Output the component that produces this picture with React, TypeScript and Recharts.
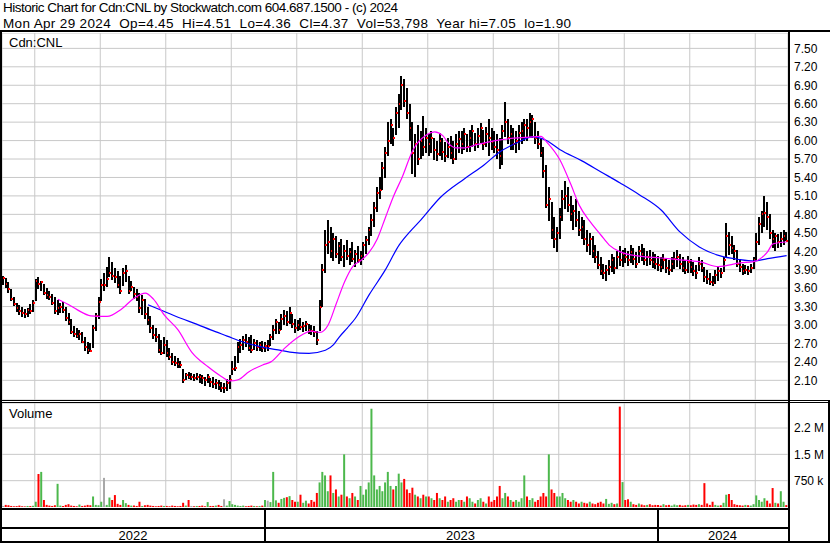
import { Bar, BarChart, CartesianGrid, Cell, ComposedChart, Line, XAxis, YAxis } from 'recharts';

// one bar ~ every 1.75 trading days, 12 bars per month, May 2022 .. Apr 2024
const highs = [
  3.80, 3.76, 3.70, 3.58, 3.45, 3.36, 3.32, 3.30, 3.26, 3.28, 3.34, 3.40,
  3.75, 3.78, 3.72, 3.66, 3.60, 3.55, 3.50, 3.45, 3.40, 3.35, 3.38, 3.30,
  3.20, 3.10, 2.98, 2.95, 2.92, 2.88, 2.80, 2.72, 2.70, 3.00, 3.20, 3.45,
  3.75, 3.85, 3.95, 4.10, 4.02, 3.92, 3.88, 3.80, 3.92, 3.98, 3.80, 3.72,
  3.62, 3.58, 3.52, 3.48, 3.42, 3.30, 3.15, 3.00, 2.95, 2.86, 2.75, 2.80,
  2.75, 2.62, 2.55, 2.50, 2.46, 2.42, 2.28, 2.22, 2.24, 2.22, 2.20, 2.22,
  2.20, 2.18, 2.16, 2.20, 2.14, 2.16, 2.12, 2.10, 2.08, 2.06, 2.12, 2.18,
  2.42, 2.50, 2.72, 2.78, 2.82, 2.86, 2.80, 2.84, 2.78, 2.76, 2.72, 2.74,
  2.72, 2.76, 2.85, 3.00, 3.10, 3.05, 3.18, 3.25, 3.22, 3.30, 3.18, 3.10,
  3.08, 3.12, 3.05, 3.06, 3.02, 3.00, 2.98, 2.90, 3.40, 4.00, 4.55, 4.70,
  4.60, 4.50, 4.45, 4.35, 4.40, 4.30, 4.38, 4.25, 4.35, 4.22, 4.28, 4.20,
  4.35, 4.45, 4.60, 4.80, 5.00, 5.25, 5.40, 5.65, 5.90, 6.30, 6.35, 6.20,
  6.55, 6.75, 7.05, 7.00, 6.85, 6.60, 6.30, 6.10, 6.25, 6.15, 6.40, 6.20,
  6.10, 6.15, 6.05, 6.00, 6.12, 6.05, 5.98, 6.05, 6.08, 6.00, 6.10, 6.15,
  6.15, 6.20, 6.10, 6.18, 6.25, 6.12, 6.20, 6.28, 6.18, 6.22, 6.35, 6.20,
  6.15, 6.10, 6.05, 6.25, 6.62, 6.35, 6.25, 6.20, 6.15, 6.25, 6.30, 6.35,
  6.35, 6.45, 6.42, 6.30, 6.15, 6.02, 5.90, 5.60, 5.25, 5.00, 4.75, 4.60,
  4.90, 5.20, 5.35, 5.25, 5.10, 4.95, 5.05, 4.85, 4.75, 4.70, 4.55, 4.50,
  4.45, 4.30, 4.20, 4.10, 4.00, 3.98, 4.05, 4.15, 4.10, 4.20, 4.28, 4.22,
  4.25, 4.20, 4.30, 4.25, 4.18, 4.28, 4.32, 4.25, 4.20, 4.22, 4.18, 4.15,
  4.12, 4.10, 4.15, 4.08, 4.05, 4.10, 4.18, 4.22, 4.15, 4.10, 4.05, 4.12,
  4.08, 4.02, 3.98, 4.10, 4.05, 3.95, 3.90, 3.85, 3.80, 3.90, 3.95, 3.92,
  4.10, 4.66, 4.52, 4.45, 4.30, 4.22, 4.05, 4.00, 3.98, 3.96, 4.00, 4.10,
  4.50, 4.75, 4.85, 5.10, 5.00, 4.80, 4.55, 4.50, 4.48, 4.52, 4.55, 4.51,
];

const lows = [
  3.66, 3.60, 3.52, 3.38, 3.30, 3.22, 3.16, 3.14, 3.12, 3.14, 3.18, 3.20,
  3.40, 3.58, 3.55, 3.48, 3.42, 3.40, 3.32, 3.18, 3.15, 3.18, 3.20, 3.08,
  3.00, 2.85, 2.80, 2.78, 2.75, 2.70, 2.58, 2.52, 2.55, 2.62, 2.90, 3.10,
  3.40, 3.55, 3.62, 3.78, 3.72, 3.68, 3.60, 3.50, 3.62, 3.70, 3.50, 3.55,
  3.42, 3.38, 3.20, 3.15, 3.10, 3.00, 2.88, 2.78, 2.72, 2.55, 2.50, 2.52,
  2.48, 2.42, 2.36, 2.34, 2.30, 2.30, 2.05, 2.10, 2.12, 2.10, 2.08, 2.10,
  2.06, 2.04, 2.02, 2.05, 2.00, 1.98, 1.95, 1.94, 1.92, 1.90, 1.92, 1.95,
  2.20, 2.25, 2.38, 2.55, 2.60, 2.65, 2.58, 2.55, 2.60, 2.58, 2.58, 2.56,
  2.56, 2.58, 2.66, 2.76, 2.85, 2.86, 2.92, 3.00, 2.98, 3.02, 2.95, 2.88,
  2.90, 2.92, 2.88, 2.90, 2.86, 2.84, 2.80, 2.68, 2.90, 3.30, 3.85, 4.15,
  4.10, 4.05, 4.10, 4.00, 4.05, 3.95, 4.05, 3.98, 4.02, 3.95, 4.00, 3.98,
  4.05, 4.15, 4.30, 4.45, 4.60, 4.85, 5.05, 5.20, 5.40, 5.75, 5.95, 5.90,
  6.10, 6.20, 6.50, 6.55, 6.35, 6.00, 5.45, 5.40, 5.60, 5.70, 5.75, 5.80,
  5.75, 5.80, 5.70, 5.68, 5.75, 5.70, 5.65, 5.72, 5.70, 5.62, 5.68, 5.80,
  5.78, 5.85, 5.80, 5.82, 5.90, 5.82, 5.88, 5.95, 5.85, 5.90, 5.75, 5.85,
  5.80, 5.70, 5.55, 5.60, 6.05, 5.95, 5.85, 5.85, 5.80, 5.85, 5.95, 6.00,
  6.00, 6.05, 6.05, 5.95, 5.85, 5.72, 5.40, 4.90, 4.70, 4.40, 4.25, 4.20,
  4.40, 4.70, 4.90, 4.85, 4.70, 4.55, 4.60, 4.45, 4.40, 4.30, 4.20, 4.15,
  4.10, 4.00, 3.90, 3.80, 3.75, 3.72, 3.80, 3.85, 3.82, 3.90, 3.95, 3.95,
  4.00, 3.95, 4.00, 3.98, 3.92, 4.00, 4.05, 3.98, 3.95, 3.98, 3.92, 3.90,
  3.88, 3.85, 3.90, 3.85, 3.80, 3.85, 3.90, 3.95, 3.90, 3.85, 3.82, 3.85,
  3.85, 3.80, 3.75, 3.88, 3.85, 3.70, 3.68, 3.65, 3.64, 3.68, 3.72, 3.75,
  3.85, 4.10, 4.15, 4.15, 4.05, 3.95, 3.85, 3.82, 3.84, 3.82, 3.85, 3.90,
  4.05, 4.30, 4.50, 4.60, 4.55, 4.40, 4.25, 4.20, 4.25, 4.28, 4.30, 4.36,
];

const closes = [
  3.76, 3.66, 3.58, 3.42, 3.34, 3.28, 3.22, 3.20, 3.18, 3.24, 3.22, 3.36,
  3.72, 3.66, 3.70, 3.52, 3.48, 3.45, 3.36, 3.22, 3.28, 3.30, 3.25, 3.12,
  3.05, 2.88, 2.86, 2.82, 2.85, 2.72, 2.65, 2.60, 2.58, 2.95, 3.15, 3.38,
  3.65, 3.65, 3.75, 3.85, 3.80, 3.78, 3.65, 3.55, 3.85, 3.88, 3.55, 3.62,
  3.50, 3.45, 3.28, 3.40, 3.18, 3.08, 2.95, 2.84, 2.80, 2.60, 2.55, 2.68,
  2.55, 2.48, 2.40, 2.38, 2.36, 2.35, 2.10, 2.18, 2.16, 2.16, 2.14, 2.16,
  2.15, 2.14, 2.10, 2.16, 2.08, 2.04, 2.06, 2.02, 1.98, 1.98, 2.06, 2.10,
  2.28, 2.30, 2.65, 2.68, 2.75, 2.72, 2.62, 2.60, 2.70, 2.64, 2.68, 2.62,
  2.66, 2.66, 2.80, 2.92, 3.05, 2.92, 3.10, 3.15, 3.05, 3.20, 3.02, 2.95,
  3.00, 2.96, 2.98, 3.02, 2.92, 2.90, 2.88, 2.75, 3.30, 3.90, 4.30, 4.35,
  4.20, 4.40, 4.15, 4.28, 4.10, 4.20, 4.12, 4.18, 4.08, 4.15, 4.05, 4.12,
  4.30, 4.38, 4.55, 4.70, 4.90, 5.15, 5.20, 5.55, 5.80, 6.00, 6.25, 6.05,
  6.45, 6.60, 6.90, 6.65, 6.45, 6.20, 5.80, 5.95, 5.70, 6.00, 5.90, 6.05,
  5.95, 6.05, 5.85, 5.78, 6.00, 5.82, 5.75, 5.90, 5.80, 5.70, 5.95, 6.02,
  5.95, 6.10, 5.90, 6.05, 6.15, 5.95, 6.08, 6.20, 5.95, 6.10, 6.05, 5.98,
  5.90, 5.85, 5.75, 6.15, 6.30, 6.05, 6.10, 5.95, 6.00, 6.12, 6.15, 6.25,
  6.20, 6.30, 6.35, 6.05, 5.95, 5.80, 5.50, 4.95, 5.05, 4.55, 4.40, 4.50,
  4.75, 5.05, 5.10, 4.95, 4.80, 4.85, 4.70, 4.55, 4.60, 4.40, 4.30, 4.40,
  4.20, 4.10, 3.98, 3.88, 3.85, 3.90, 3.95, 4.05, 3.92, 4.10, 4.05, 4.15,
  4.10, 4.05, 4.18, 4.08, 4.00, 4.20, 4.15, 4.05, 4.10, 4.05, 4.02, 4.00,
  3.98, 3.95, 4.05, 3.92, 3.90, 4.00, 4.08, 4.10, 4.00, 3.92, 3.90, 4.02,
  3.95, 3.88, 3.85, 4.00, 3.92, 3.78, 3.75, 3.70, 3.68, 3.82, 3.88, 3.85,
  4.05, 4.45, 4.30, 4.25, 4.20, 4.00, 3.95, 3.88, 3.90, 3.88, 3.92, 4.05,
  4.35, 4.65, 4.80, 4.82, 4.75, 4.50, 4.40, 4.45, 4.35, 4.40, 4.45, 4.37,
];

// thousands of shares
const volumes = [
  30, 60, 50, 30, 20, 25, 40, 20, 15, 30, 25, 35,
  150, 940, 1000, 200, 60, 40, 30, 50, 660, 40, 30, 60,
  80, 40, 30, 20, 70, 30, 40, 60, 50, 300, 60, 50,
  150, 830, 60, 270, 200, 340, 90, 60, 200, 110, 60, 40,
  40, 30, 150, 30, 50, 60, 40, 30, 20, 30, 40, 30,
  30, 20, 40, 30, 20, 30, 120, 40, 200, 30, 20, 30,
  30, 40, 20, 140, 30, 30, 40, 60, 30, 220, 40, 170,
  80, 60, 40, 30, 40, 20, 30, 40, 30, 20, 30, 40,
  200, 180, 140, 1000, 190, 120, 230, 260, 280, 310, 200, 150,
  150, 350, 120, 180, 100, 200, 150, 400, 700, 1000, 900, 450,
  900, 400, 500, 300, 350, 1500, 300, 250, 400, 300, 200, 600,
  350, 500, 700, 2800, 900, 500, 600, 450, 700, 1000, 600, 500,
  600, 950, 700, 800, 500, 400, 550, 350, 300, 250, 350, 300,
  300, 250, 200, 400, 250, 200, 300, 150, 200, 250, 150, 200,
  200, 150, 300, 250, 150, 100, 200, 250, 150, 100, 300, 150,
  200, 300, 600, 250, 400, 300, 200, 150, 200, 150, 250, 900,
  300, 200, 250, 150, 200, 300, 400, 300, 1500, 500, 400, 300,
  300, 400, 250, 200, 150, 200, 150, 100, 150, 120, 100, 150,
  100, 80, 120, 150, 100, 230, 90, 120, 80, 100, 2860, 710,
  200, 220, 150, 80, 60, 100, 70, 50, 60, 80, 50, 60,
  60, 40, 80, 50, 60, 40, 70, 50, 60, 40, 50, 60,
  50, 70, 60, 80, 60, 680, 100, 60, 150, 60, 40, 50,
  120, 350, 370, 200, 80, 60, 50, 40, 60, 50, 40, 80,
  330, 200, 150, 250, 180, 100, 540, 120, 100, 450, 150, 54,
];

// moving averages at selected bars
const pinkAt = [20, 24, 27, 32, 38, 43, 48, 52, 55, 59, 64, 69, 75, 80, 83, 86, 90, 95, 98, 103, 108, 113, 116, 119, 122, 125, 128, 131, 134, 137, 140, 143, 146, 150, 155, 158, 161, 163, 166, 169, 173, 178, 182, 187, 194, 197, 199, 204, 208, 211, 215, 219, 222, 226, 233, 241, 248, 255, 262, 270, 275, 278, 280, 282, 287];
const pinkVals = [3.42, 3.33, 3.25, 3.15, 3.14, 3.25, 3.44, 3.52, 3.42, 3.16, 2.92, 2.56, 2.32, 2.16, 2.09, 2.11, 2.24, 2.35, 2.40, 2.62, 2.80, 2.90, 2.88, 3.00, 3.35, 3.70, 3.95, 4.05, 4.18, 4.40, 4.75, 5.10, 5.39, 5.84, 6.09, 6.14, 6.08, 5.96, 5.88, 5.88, 5.93, 5.98, 6.01, 6.04, 6.06, 6.07, 5.98, 5.68, 5.28, 4.95, 4.68, 4.46, 4.30, 4.19, 4.12, 4.09, 4.06, 4.03, 3.95, 4.01, 4.03, 4.10, 4.19, 4.32, 4.35];
const blueAt = [53, 59, 65, 71, 76, 82, 88, 95, 100, 105, 112, 118, 121, 123, 126, 129, 134, 140, 145, 149, 153, 160, 169, 176, 182, 188, 194, 199, 204, 212, 219, 226, 233, 241, 248, 255, 263, 269, 275, 280, 287];
const blueVals = [3.33, 3.22, 3.11, 3.01, 2.92, 2.82, 2.72, 2.64, 2.60, 2.56, 2.54, 2.59, 2.68, 2.80, 2.95, 3.11, 3.49, 3.90, 4.30, 4.52, 4.71, 5.07, 5.38, 5.60, 5.82, 5.96, 6.06, 6.00, 5.85, 5.67, 5.49, 5.31, 5.12, 4.87, 4.51, 4.27, 4.12, 4.07, 4.04, 4.08, 4.13];

const priceTicks = [2.1, 2.4, 2.7, 3.0, 3.3, 3.6, 3.9, 4.2, 4.5, 4.8, 5.1, 5.4, 5.7, 6.0, 6.3, 6.6, 6.9, 7.2, 7.5];
const volTicks = [750, 1500, 2250];
const volTickLabels = ['750 k', '1.5 M', '2.2 M'];
const monthTicks = [11.5, 23.5, 35.5, 47.5, 59.5, 71.5, 83.5, 95.5, 107.5, 119.5, 131.5, 143.5, 155.5, 167.5, 179.5, 191.5, 203.5, 215.5, 227.5, 239.5, 251.5, 263.5, 275.5];
const years = ['2022', '2023', '2024'];
const yearBounds = [0, 96, 240, 288];

const W = 830;
const PLOT_L = 2;
const PLOT_W = 786;
const N = closes.length;
const FONT = 'Arial, "Liberation Sans", sans-serif';

type Row = { i: number; low: number; high: number; close: number; vol: number; dir: number; pink?: number; blue?: number };

const rows: Row[] = closes.map((c, i) => ({
  i,
  low: lows[i],
  high: highs[i],
  close: c,
  vol: volumes[i],
  dir: i === 0 ? 0 : Math.sign(Math.round((c - closes[i - 1]) * 100)),
}));
pinkAt.forEach((k, j) => { rows[k].pink = pinkVals[j]; });
blueAt.forEach((k, j) => { rows[k].blue = blueVals[j]; });

const boundX = (b: number) => PLOT_L + (b * PLOT_W) / N;

function PriceBar(props: any) {
  const { x, y, width, height, payload } = props;
  if (x == null || y == null) return null;
  const top = Math.min(y, y + height);
  const h = Math.max(1, Math.abs(height));
  const cx = Math.round(x + width / 2);
  const span = payload.high - payload.low || 1;
  const cy = Math.round(top + ((payload.high - payload.close) / span) * h);
  return (
    <g shapeRendering="crispEdges">
      <rect x={cx - 1} y={Math.round(top)} width={2} height={Math.round(h)} fill="#000" />
      <rect x={cx} y={cy - 1} width={2} height={2} fill="#ff0000" />
    </g>
  );
}

function RightTick(props: any) {
  const { x, y, payload, labels } = props;
  const text = labels ? labels[props.index] : Number(payload.value).toFixed(2);
  return (
    <text x={x} y={y} dy={4.3} fontSize={12} fontFamily={FONT} fill="#000">
      {text}
    </text>
  );
}

const volColor = (d: number) => (d > 0 ? '#4cb84c' : d < 0 ? '#ff0000' : '#a8a8a8');

export default function App() {
  return (
    <div style={{ position: 'absolute', left: 0, top: 0, width: W, height: 543, background: '#fff', overflow: 'hidden' }}>
      <div style={{ position: 'absolute', left: 0, top: 33 }}>
        <ComposedChart width={W} height={367} data={rows} margin={{ top: 0, right: 0, bottom: 0, left: PLOT_L }}>
          <CartesianGrid stroke="#c8c8c8" />
          <XAxis dataKey="i" type="number" domain={[-0.5, N - 0.5]} ticks={monthTicks} hide />
          <YAxis
            orientation="right"
            width={42}
            domain={[1.78, 7.75]}
            allowDataOverflow
            ticks={priceTicks}
            interval={0}
            tickLine={false}
            axisLine={false}
            tickSize={6}
            tickMargin={0}
            tick={<RightTick />}
          />
          <Bar dataKey={(d: Row) => [d.low, d.high]} barSize={2} shape={PriceBar} isAnimationActive={false} />
          <Line dataKey="blue" type="monotone" stroke="#0000ff" strokeWidth={1.2} dot={false} connectNulls isAnimationActive={false} />
          <Line dataKey="pink" type="monotone" stroke="#ff00ff" strokeWidth={1.2} dot={false} connectNulls isAnimationActive={false} />
        </ComposedChart>
      </div>

      <div style={{ position: 'absolute', left: 0, top: 403 }}>
        <BarChart width={W} height={104} data={rows} margin={{ top: 0, right: 0, bottom: 0, left: PLOT_L }}>
          <CartesianGrid stroke="#c8c8c8" />
          <XAxis dataKey="i" type="number" domain={[-0.5, N - 0.5]} ticks={monthTicks} hide />
          <YAxis
            orientation="right"
            width={42}
            domain={[0, 2963]}
            allowDataOverflow
            ticks={volTicks}
            interval={0}
            tickLine={false}
            axisLine={false}
            tickSize={6}
            tickMargin={0}
            tick={<RightTick labels={volTickLabels} />}
          />
          <Bar dataKey="vol" barSize={2} isAnimationActive={false}>
            {rows.map((r) => (
              <Cell key={r.i} fill={volColor(r.dir)} />
            ))}
          </Bar>
        </BarChart>
      </div>

      <svg width={W} height={543} style={{ position: 'absolute', left: 0, top: 0, pointerEvents: 'none' }} fontFamily={FONT}>
        <text x={3} y={12.4} fontSize={13.5} textLength={395} lengthAdjust="spacing" fill="#000" style={{ whiteSpace: 'pre' }}>
          Historic Chart for Cdn:CNL by Stockwatch.com 604.687.1500 - (c) 2024
        </text>
        <text x={3} y={27.6} fontSize={13.5} textLength={568} lengthAdjust="spacing" fill="#000" style={{ whiteSpace: 'pre' }}>
          {'Mon Apr 29 2024  Op=4.45  Hi=4.51  Lo=4.36  Cl=4.37  Vol=53,798  Year hi=7.05  lo=1.90'}
        </text>
        <text x={9} y={46.5} fontSize={13} fill="#000">Cdn:CNL</text>
        <text x={9} y={417.7} fontSize={13} fill="#000">Volume</text>

        <g shapeRendering="crispEdges" fill="#000">
          <rect x={0} y={30} width={W} height={2} />
          <rect x={0} y={30} width={2} height={513} />
          <rect x={788} y={30} width={2} height={513} />
          <rect x={0} y={400} width={W} height={1} />
          <rect x={0} y={402} width={W} height={1} />
          <rect x={0} y={508} width={790} height={2} />
          <rect x={0} y={527} width={790} height={2} />
          <rect x={0} y={541} width={W} height={2} />
          <rect x={828} y={400} width={2} height={143} />
          {yearBounds.slice(1, -1).map((b) => (
            <rect key={b} x={Math.round(boundX(b))} y={510} width={2} height={31} />
          ))}
        </g>
        {years.map((yr, k) => (
          <text
            key={yr}
            x={(boundX(yearBounds[k]) + boundX(yearBounds[k + 1])) / 2}
            y={539.5}
            fontSize={13}
            textAnchor="middle"
            fill="#000"
          >
            {yr}
          </text>
        ))}
      </svg>
    </div>
  );
}
